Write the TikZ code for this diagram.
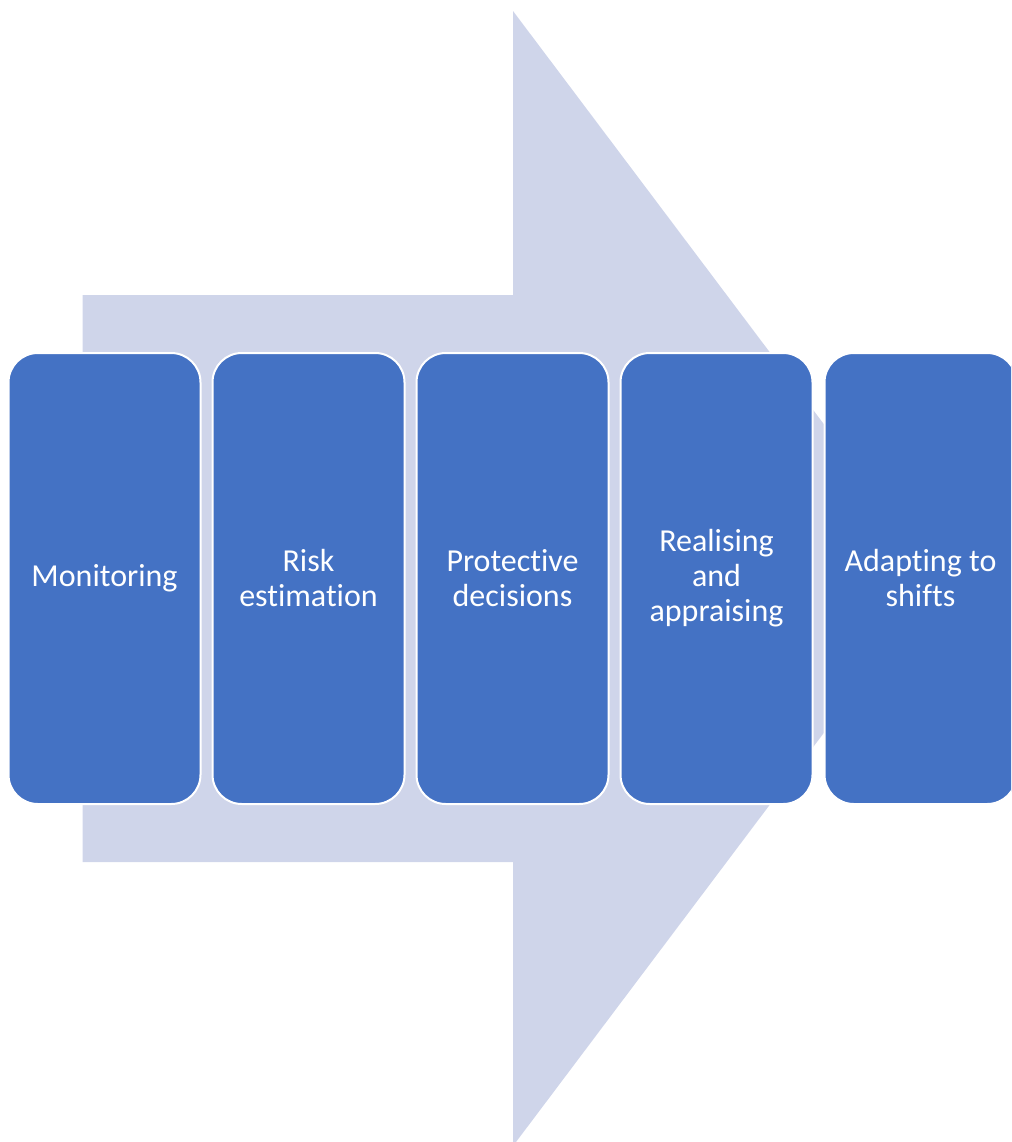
\documentclass[tikz,border=0pt]{standalone}
\usepackage{fontspec}
\setmainfont{Carlito}[Ligatures=CommonOff]
\begin{document}
\tikzset{every picture/.style={line width=0.75pt}}
\tikzset{stagebox/.style={draw=white, line width=1.5, fill={rgb, 255:red, 68; green, 114; blue, 196 }, rounded corners=22pt, minimum width=144pt, minimum height=338.25pt, inner sep=0pt, text=white, align=center, font=\fontsize{24}{26.25}\selectfont}}

\begin{tikzpicture}[x=0.75pt,y=0.75pt,yscale=-1,xscale=1]
\clip (0,0) rectangle (1011,1142);

%Shape: Right Arrow [id:dp_flow]
\fill [fill={rgb, 255:red, 207; green, 213; blue, 234 }] (82.5,295) -- (513,295) -- (513,11) -- (940,578.5) -- (513,1146) -- (513,862) -- (82.5,862) -- cycle ;

% Text Node
\node [stagebox] (monitor) at (104.5,578.5) {Monitoring};
% Text Node
\node [stagebox] (risk) at (308.5,578.5) {Risk\\estimation};
% Text Node
\node [stagebox] (protect) at (512.5,578.5) {Protective\\decisions};
% Text Node
\node [stagebox] (realise) at (716.5,578.5) {Realising\\and\\appraising};
% Text Node
\node [stagebox] (adapt) at (920.5,578.5) {Adapting to\\shifts};

\end{tikzpicture}
\end{document}
